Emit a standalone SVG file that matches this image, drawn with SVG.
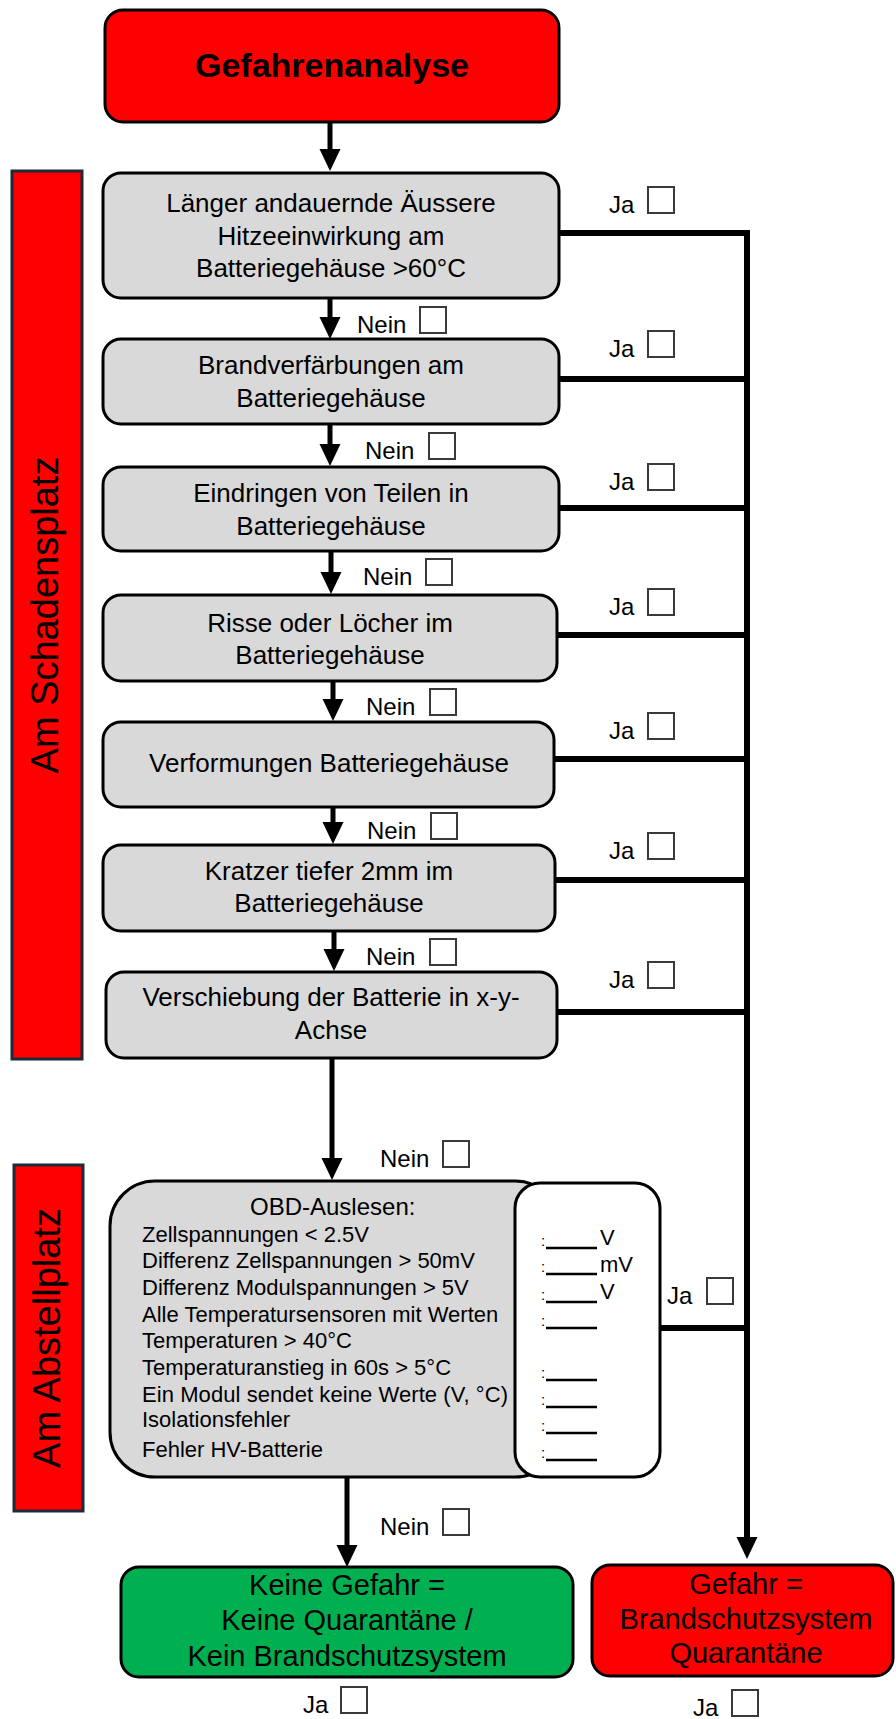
<svg xmlns="http://www.w3.org/2000/svg" width="896" height="1719" viewBox="0 0 896 1719">
  <defs>
    <marker id="ah" markerUnits="userSpaceOnUse" markerWidth="22" markerHeight="22" viewBox="0 0 22 22" refX="11" refY="11" orient="auto">
      <path d="M0,0.5 L22,11 L0,21.5 z" fill="#000"/>
    </marker>
    <style>
      .t{font-family:"Liberation Sans",Arial,sans-serif;fill:#000}
      .box{stroke:#000;stroke-width:3}
      .red{fill:#FF0000}
      .grey{fill:#D9D9D9}
      .green{fill:#00B050}
      .q{font-size:26px;text-anchor:middle}
      .end{font-size:29px;text-anchor:middle}
      .lbl{font-size:24px}
      .chk{fill:#fff;stroke:#3a3a3a;stroke-width:2}
      .bar{fill:#FF0000;stroke:#1B2B3A;stroke-width:3}
      .side{font-size:38px;text-anchor:middle}
      .item{font-size:22px}
      .unit{font-size:22px}
      .dot{font-size:15px}
      .c{fill:none;stroke:#000;stroke-width:5}
      .ja{fill:none;stroke:#000;stroke-width:6;stroke-linejoin:miter}
      .ul{stroke:#000;stroke-width:2.5}
    </style>
  </defs>
  <rect width="896" height="1719" fill="#fff"/>

  <!-- side bars -->
  <g id="bar-schadensplatz">
    <rect class="bar" x="12" y="171" width="70" height="888"/>
    <text class="t side" transform="translate(58,615) rotate(-90)">Am Schadensplatz</text>
  </g>
  <g id="bar-abstellplatz">
    <rect class="bar" x="14" y="1165" width="69" height="346"/>
    <text class="t side" transform="translate(60,1338) rotate(-90)">Am Abstellplatz</text>
  </g>

  <!-- connectors -->
  <g id="connectors">
    <line class="c" x1="330" y1="123" x2="330" y2="160" marker-end="url(#ah)"/>
    <line class="c" x1="330" y1="299" x2="330" y2="328" marker-end="url(#ah)"/>
    <line class="c" x1="330" y1="425" x2="330" y2="455" marker-end="url(#ah)"/>
    <line class="c" x1="331" y1="552" x2="331" y2="583" marker-end="url(#ah)"/>
    <line class="c" x1="333" y1="682" x2="333" y2="710" marker-end="url(#ah)"/>
    <line class="c" x1="333" y1="808" x2="333" y2="833" marker-end="url(#ah)"/>
    <line class="c" x1="334" y1="932" x2="334" y2="960" marker-end="url(#ah)"/>
    <line class="c" x1="332" y1="1059" x2="332" y2="1169" marker-end="url(#ah)"/>
    <line class="c" x1="347" y1="1478" x2="347" y2="1556" marker-end="url(#ah)"/>
    <path class="ja" d="M557,233 H747 V1546"/>
    <line x1="747" y1="1540" x2="747" y2="1548" stroke="#000" stroke-width="5" marker-end="url(#ah)"/>
    <path class="ja" d="M557,379 H747"/>
    <path class="ja" d="M557,508 H747"/>
    <path class="ja" d="M555,635 H747"/>
    <path class="ja" d="M554,759 H747"/>
    <path class="ja" d="M555,880 H747"/>
    <path class="ja" d="M557,1012 H747"/>
    <path class="ja" d="M660,1328 H747"/>
  </g>

  <!-- start -->
  <g id="start">
    <rect class="box red" x="105" y="10" width="454" height="112" rx="18"/>
    <text class="t" x="332" y="77" font-size="34" font-weight="bold" text-anchor="middle">Gefahrenanalyse</text>
  </g>

  <!-- checks at the scene -->
  <g id="q1">
    <rect class="box grey" x="103" y="173" width="456" height="125" rx="18"/>
    <text class="t q" x="331" y="212">Länger andauernde Äussere</text>
    <text class="t q" x="331" y="245">Hitzeeinwirkung  am</text>
    <text class="t q" x="331" y="277">Batteriegehäuse &gt;60°C</text>
  </g>
  <g id="q2">
    <rect class="box grey" x="103" y="339" width="456" height="85" rx="18"/>
    <text class="t q" x="331" y="374">Brandverfärbungen  am</text>
    <text class="t q" x="331" y="407">Batteriegehäuse</text>
  </g>
  <g id="q3">
    <rect class="box grey" x="103" y="467" width="456" height="84" rx="18"/>
    <text class="t q" x="331" y="502">Eindringen  von Teilen in</text>
    <text class="t q" x="331" y="535">Batteriegehäuse</text>
  </g>
  <g id="q4">
    <rect class="box grey" x="103" y="595" width="454" height="86" rx="18"/>
    <text class="t q" x="330" y="632">Risse oder Löcher im</text>
    <text class="t q" x="330" y="664">Batteriegehäuse</text>
  </g>
  <g id="q5">
    <rect class="box grey" x="103" y="722" width="451" height="85" rx="18"/>
    <text class="t q" x="329" y="772">Verformungen Batteriegehäuse</text>
  </g>
  <g id="q6">
    <rect class="box grey" x="103" y="845" width="452" height="86" rx="18"/>
    <text class="t q" x="329" y="880">Kratzer tiefer 2mm im</text>
    <text class="t q" x="329" y="912">Batteriegehäuse</text>
  </g>
  <g id="q7">
    <rect class="box grey" x="106" y="972" width="451" height="86" rx="18"/>
    <text class="t q" x="331" y="1006">Verschiebung  der Batterie in x-y-</text>
    <text class="t q" x="331" y="1039">Achse</text>
  </g>

  <!-- OBD readout -->
  <g id="obd">
    <rect class="box grey" x="110" y="1181" width="450" height="296" rx="45"/>
    <rect class="box" fill="#fff" x="515" y="1183" width="145" height="294" rx="25"/>
    <text class="t" x="250" y="1215" font-size="24">OBD-Auslesen:</text>
    <text class="t item" x="142" y="1242">Zellspannungen &lt; 2.5V</text>
    <text class="t item" x="142" y="1268">Differenz Zellspannungen &gt; 50mV</text>
    <text class="t item" x="142" y="1295">Differenz Modulspannungen &gt;  5V</text>
    <text class="t item" x="142" y="1322">Alle Temperatursensoren mit Werten</text>
    <text class="t item" x="142" y="1348">Temperaturen &gt; 40°C</text>
    <text class="t item" x="142" y="1375">Temperaturanstieg in 60s &gt; 5°C</text>
    <text class="t item" x="142" y="1402" textLength="366">Ein Modul sendet keine Werte (V, °C)</text>
    <text class="t item" x="142" y="1427">Isolationsfehler</text>
    <text class="t item" x="142" y="1457">Fehler HV-Batterie</text>
    <g id="obd-fields">
      <text class="t dot" x="541" y="1246">:</text>
      <line class="ul" x1="546" y1="1248" x2="597" y2="1248"/>
      <text class="t unit" x="600" y="1245">V</text>
      <text class="t dot" x="541" y="1272">:</text>
      <line class="ul" x1="546" y1="1274" x2="597" y2="1274"/>
      <text class="t unit" x="600" y="1272">mV</text>
      <text class="t dot" x="541" y="1300">:</text>
      <line class="ul" x1="546" y1="1302" x2="597" y2="1302"/>
      <text class="t unit" x="600" y="1299">V</text>
      <text class="t dot" x="541" y="1326">:</text>
      <line class="ul" x1="546" y1="1328" x2="597" y2="1328"/>
      <text class="t dot" x="541" y="1378">:</text>
      <line class="ul" x1="546" y1="1380" x2="597" y2="1380"/>
      <text class="t dot" x="541" y="1405">:</text>
      <line class="ul" x1="546" y1="1407" x2="597" y2="1407"/>
      <text class="t dot" x="541" y="1431">:</text>
      <line class="ul" x1="546" y1="1433" x2="597" y2="1433"/>
      <text class="t dot" x="541" y="1458">:</text>
      <line class="ul" x1="546" y1="1460" x2="597" y2="1460"/>
    </g>
  </g>

  <!-- outcomes -->
  <g id="no-danger">
    <rect class="box green" x="121" y="1567" width="452" height="110" rx="18"/>
    <text class="t end" x="347" y="1595">Keine Gefahr =</text>
    <text class="t end" x="347" y="1630">Keine Quarantäne /</text>
    <text class="t end" x="347" y="1666">Kein Brandschutzsystem</text>
  </g>
  <g id="danger">
    <rect class="box red" x="592" y="1565" width="301" height="111" rx="18"/>
    <text class="t end" x="746" y="1594" font-size="30">Gefahr =</text>
    <text class="t end" x="746" y="1629" font-size="30">Brandschutzsystem</text>
    <text class="t end" x="746" y="1663" font-size="30">Quarantäne</text>
  </g>

  <!-- Ja / Nein tick labels -->
  <g id="labels">
    <text class="t lbl" x="609" y="213">Ja</text><rect class="chk" x="648" y="187" width="26" height="26"/>
    <text class="t lbl" x="609" y="357">Ja</text><rect class="chk" x="648" y="331" width="26" height="26"/>
    <text class="t lbl" x="609" y="490">Ja</text><rect class="chk" x="648" y="464" width="26" height="26"/>
    <text class="t lbl" x="609" y="615">Ja</text><rect class="chk" x="648" y="589" width="26" height="26"/>
    <text class="t lbl" x="609" y="739">Ja</text><rect class="chk" x="648" y="713" width="26" height="26"/>
    <text class="t lbl" x="609" y="859">Ja</text><rect class="chk" x="648" y="833" width="26" height="26"/>
    <text class="t lbl" x="609" y="988">Ja</text><rect class="chk" x="648" y="962" width="26" height="26"/>
    <text class="t lbl" x="667" y="1304">Ja</text><rect class="chk" x="707" y="1278" width="26" height="26"/>
    <text class="t lbl" x="303" y="1713">Ja</text><rect class="chk" x="341" y="1687" width="26" height="26"/>
    <text class="t lbl" x="693" y="1716">Ja</text><rect class="chk" x="732" y="1690" width="26" height="26"/>

    <text class="t lbl" x="357" y="333">Nein</text><rect class="chk" x="420" y="307" width="26" height="26"/>
    <text class="t lbl" x="365" y="459">Nein</text><rect class="chk" x="429" y="433" width="26" height="26"/>
    <text class="t lbl" x="363" y="585">Nein</text><rect class="chk" x="426" y="559" width="26" height="26"/>
    <text class="t lbl" x="366" y="715">Nein</text><rect class="chk" x="430" y="689" width="26" height="26"/>
    <text class="t lbl" x="367" y="839">Nein</text><rect class="chk" x="431" y="813" width="26" height="26"/>
    <text class="t lbl" x="366" y="965">Nein</text><rect class="chk" x="430" y="939" width="26" height="26"/>
    <text class="t lbl" x="380" y="1167">Nein</text><rect class="chk" x="443" y="1141" width="26" height="26"/>
    <text class="t lbl" x="380" y="1535">Nein</text><rect class="chk" x="443" y="1509" width="26" height="26"/>
  </g>
</svg>
